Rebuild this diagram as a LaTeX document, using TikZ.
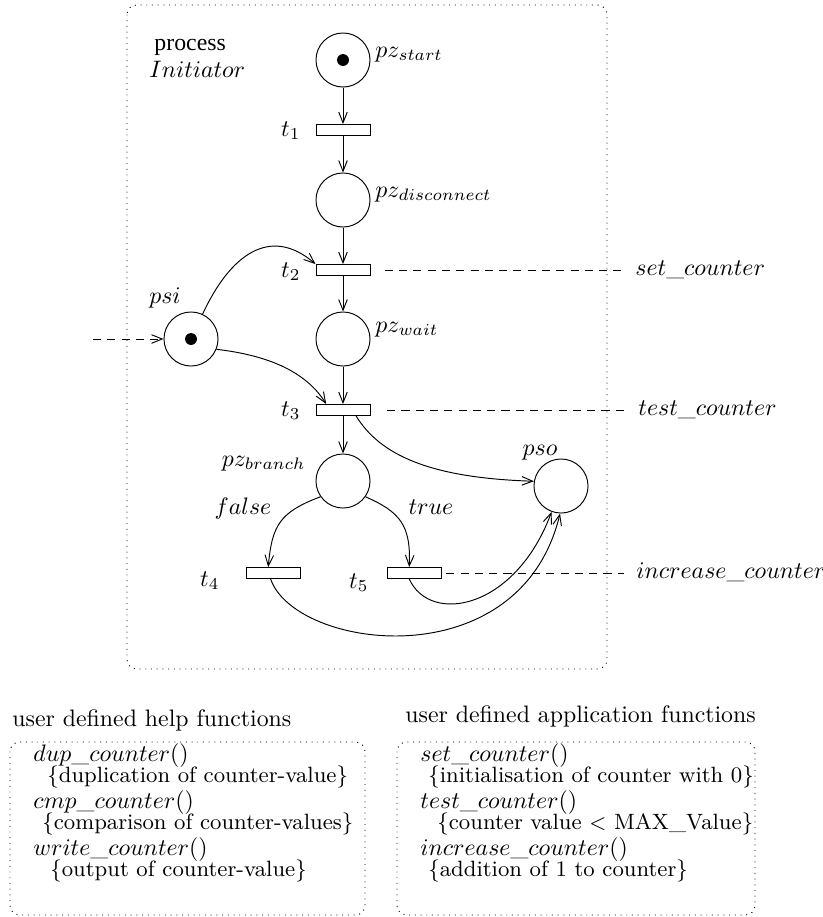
\documentclass[tikz,border=0pt]{standalone}
\usepackage{fontspec}
\newfontfamily\procfont{Liberation Serif}
\usetikzlibrary{arrows.meta}

\begin{document}
\begin{tikzpicture}[x=0.42pt,y=-0.42pt,
    place/.style={circle,draw,thin,minimum size=22.7pt,inner sep=0pt},
    trans/.style={rectangle,draw,thin,minimum width=22.7pt,minimum height=4.6pt,inner sep=0pt},
    token/.style={circle,fill,inner sep=0pt,minimum size=5pt},
    lbl/.style={inner sep=0pt},
    desc/.style={inner sep=0pt,anchor=base west,font=\fontsize{9.3pt}{11pt}\selectfont},
    arc/.style={thin,-{Straight Barb[length=4.5pt,width=3.6pt]}},
    link/.style={thin,dash pattern=on 3.4pt off 2.6pt},
    frame/.style={thin,dotted,rounded corners=4pt}]
  \useasboundingbox (0,0) rectangle (822,917);
  \draw[frame] (127,5) rectangle (607,669);
  \node[lbl,anchor=base west] (proc) at (154,50) {\procfont process};
  \node[lbl,anchor=base west] (init) at (149,77) {$Initiator$};

  \node[place] (pzstart) at (343,60) {};
  \node[token] (tokstart) at (pzstart) {};
  \node[trans] (t1) at (343,130) {};
  \node[place] (pzdisc) at (343,200) {};
  \node[trans] (t2) at (343,270) {};
  \node[place] (pzwait) at (343,339) {};
  \node[place] (psi) at (191,339) {};
  \node[token] (toksi) at (psi) {};
  \node[trans] (t3) at (343,410) {};
  \node[place] (pzbranch) at (343,481) {};
  \node[place] (pso) at (561,486) {};
  \node[trans] (t4) at (273,573) {};
  \node[trans] (t5) at (414,573) {};

  \node[lbl,anchor=base west] (lstart) at (375,57) {$pz_{start}$};
  \node[lbl,anchor=base west] (ldisc) at (375,197) {$pz_{disconnect}$};
  \node[lbl,anchor=base west] (lwait) at (375,332) {$pz_{wait}$};
  \node[lbl,anchor=base east] (lbranch) at (306,466) {$pz_{branch}$};
  \node[lbl,anchor=base] (lpsi) at (165,303) {$psi$};
  \node[lbl,anchor=base] (lpso) at (540,455) {$pso$};
  \node[lbl,anchor=base east] (lt1) at (301,136) {$t_1$};
  \node[lbl,anchor=base east] (lt2) at (301,277) {$t_2$};
  \node[lbl,anchor=base east] (lt3) at (301,416) {$t_3$};
  \node[lbl,anchor=base east] (lt4) at (220,586) {$t_4$};
  \node[lbl,anchor=base east] (lt5) at (369,588) {$t_5$};
  \node[lbl,anchor=base] (lfalse) at (243,514) {$false$};
  \node[lbl,anchor=base] (ltrue) at (431,514) {$true$};
  \node[lbl,anchor=base west] (fset) at (635,275) {$set\_counter$};
  \node[lbl,anchor=base west] (ftest) at (638,415) {$test\_counter$};
  \node[lbl,anchor=base west] (finc) at (636,578) {$increase\_counter$};

  \draw[arc] (pzstart) -- (t1);
  \draw[arc] (t1) -- (pzdisc);
  \draw[arc] (pzdisc) -- (t2);
  \draw[arc] (t2) -- (pzwait);
  \draw[arc] (pzwait) -- (t3);
  \draw[arc] (t3) -- (pzbranch);
  \draw[arc] (psi.65) .. controls (230,255) and (270,225) .. (t2.north west);
  \draw[arc] (psi.-22) .. controls (265,355) and (305,370) .. ([xshift=4.5pt]t3.north west);
  \draw[arc] ([xshift=5.5pt]t3.south) .. controls (380,455) and (430,478) .. (pso.170);
  \draw[arc] (pzbranch.215) .. controls (280,512) and (272,525) .. ([xshift=-2pt]t4.north);
  \draw[arc] (pzbranch.-35) .. controls (400,512) and (411,525) .. ([xshift=-2pt]t5.north);
  \draw[arc] ([xshift=-2pt]t5.south) .. controls (430,625) and (515,610) .. (pso.250);
  \draw[arc] ([xshift=-1pt]t4.south) .. controls (295,650) and (520,680) .. (pso.268);

  \coordinate (src) at (93,339);
  \draw[link,arc] (src) -- (psi);
  \draw[link,shorten <=6pt,shorten >=6pt] (t2.east) -- (t2.east -| fset.west);
  \draw[link,shorten <=7pt,shorten >=5pt] (t3.east) -- (t3.east -| ftest.west);
  \draw[link,shorten <=2pt,shorten >=5pt] (t5.east) -- (t5.east -| finc.west);

  \node[lbl,anchor=base west] (helptitle) at (12,726) {user defined help functions};
  \draw[frame] (10,742) rectangle (365,915);
  \node[lbl,anchor=base west] (dup) at (33,761) {$dup\_counter()$};
  \node[desc] (dupt) at (47,782) {\{duplication of counter-value\}};
  \node[lbl,anchor=base west] (cmp) at (33,808) {$cmp\_counter()$};
  \node[desc] (cmpt) at (42,829) {\{comparison of counter-values\}};
  \node[lbl,anchor=base west] (wrt) at (33,855) {$write\_counter()$};
  \node[desc] (wrtt) at (50,876) {\{output of counter-value\}};

  \node[lbl,anchor=base west] (apptitle) at (405,722) {user defined application functions};
  \draw[frame] (397,742) rectangle (755,915);
  \node[lbl,anchor=base west] (set) at (420,761) {$set\_counter()$};
  \node[desc] (sett) at (428,782) {\{initialisation of counter with 0\}};
  \node[lbl,anchor=base west] (tst) at (420,808) {$test\_counter()$};
  \node[desc] (tstt) at (437,829) {\{counter value $<$ MAX\_Value\}};
  \node[lbl,anchor=base west] (inc) at (420,855) {$increase\_counter()$};
  \node[desc] (inct) at (428,876) {\{addition of 1 to counter\}};
\end{tikzpicture}
\end{document}
